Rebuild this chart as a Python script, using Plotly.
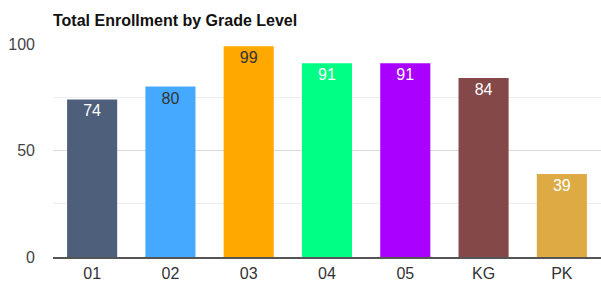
import plotly.graph_objects as go

grades = ["01", "02", "03", "04", "05", "KG", "PK"]
enrollment = [74, 80, 99, 91, 91, 84, 39]
bar_colors = ["#4D5F7B", "#45AAFF", "#FFA800", "#00FF85", "#AA00FF", "#854848", "#DDAA44"]
label_colors = ["#FFFFFF", "#333333", "#333333", "#FFFFFF", "#FFFFFF", "#FFFFFF", "#FFFFFF"]

fig = go.Figure(go.Bar(
    x=grades, y=enrollment,
    marker=dict(color=bar_colors, line=dict(width=0)),
    text=[str(v) for v in enrollment],
    textposition="inside", insidetextanchor="end",
    textfont=dict(family="Liberation Sans, Arial", size=16, color=label_colors),
    textangle=0,
    cliponaxis=False,
))

fig.update_layout(
    width=601, height=283,
    margin=dict(l=53, r=0, t=44, b=26, autoexpand=False),
    paper_bgcolor="white", plot_bgcolor="white",
    bargap=0.36,
    showlegend=False,
    title=dict(text="<b>Total Enrollment by Grade Level</b>", x=53/601, xanchor="left",
               y=1-20/283, yanchor="middle", automargin=False,
               font=dict(family="Liberation Sans, Arial", size=16, color="#111111")),
    uniformtext=dict(minsize=16, mode="show"),
)
fig.update_xaxes(
    showgrid=False, showline=True, linecolor="#555555", linewidth=2,
    tickfont=dict(family="Liberation Sans, Arial", size=16, color="#333333"),
    ticks="", ticklabelstandoff=1, automargin=False,
)
fig.update_yaxes(
    range=[0, 100], tickvals=[0, 50, 100],
    showgrid=True, gridcolor="#D9D9D9", gridwidth=1,
    minor=dict(tickvals=[25, 75], showgrid=True, gridcolor="#EEEEEE", gridwidth=1),
    zeroline=False, showline=False,
    tickfont=dict(family="Liberation Sans, Arial", size=16, color="#444444"),
    ticks="", ticklabelstandoff=17, automargin=False,
)

fig.write_html("out.html", config={"displayModeBar": False},
               post_script="document.body.style.margin='0';document.body.style.overflow='hidden';")
